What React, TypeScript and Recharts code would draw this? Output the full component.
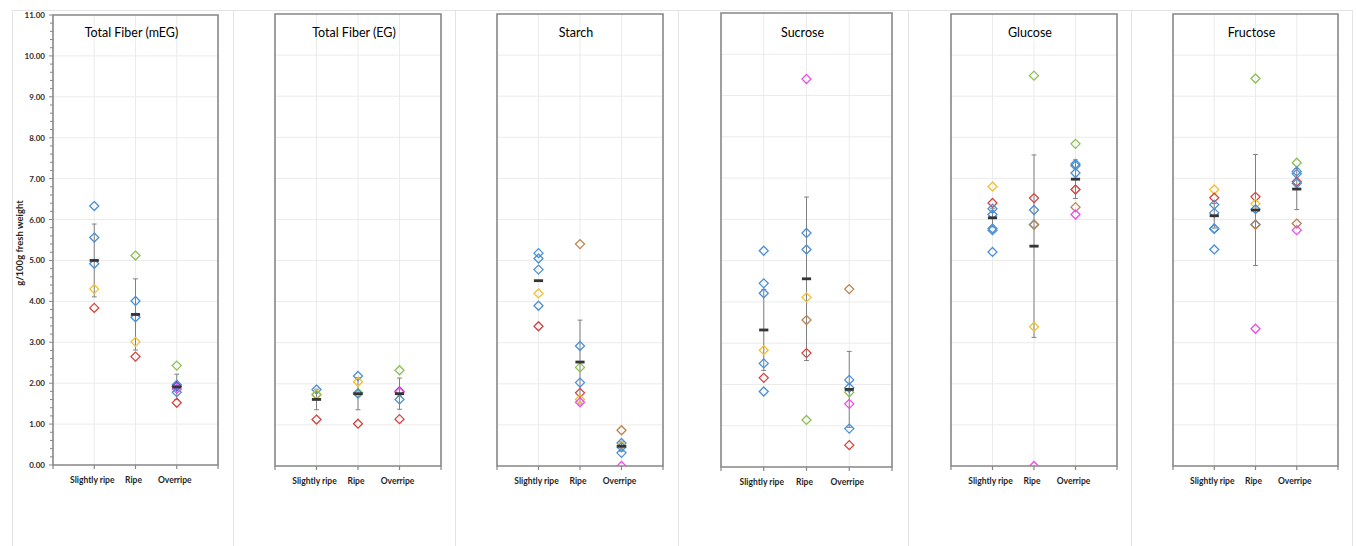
import React from "react";
import {
  ScatterChart,
  Scatter,
  XAxis,
  YAxis,
  CartesianGrid,
  ErrorBar,
  ReferenceArea,
} from "recharts";

// Ripeness stages on the x axis (positions 1..3, axis runs 0..4)
const stages = ["Slightly ripe", "Ripe", "Overripe"];
const stageTicks = [0, 1, 2, 3, 4];
const valueTicks = [0, 1, 2, 3, 4, 5, 6, 7, 8, 9, 10, 11];
const valueMinorTicks = Array.from({ length: 56 }, (_, i) => i / 5);

const tones: Record<string, string> = {
  blue: "#4a8fd6",
  red: "#d3423d",
  yellow: "#f4bf2c",
  green: "#8cbf52",
  magenta: "#ec4de8",
  brown: "#b9844f",
  purple: "#7a3fbf",
};

type Sample = { stage: number; value: number; tone: string };

// Total Fiber (mEG)
const fiberMegSamples: Sample[] = [
  { stage: 1, value: 6.33, tone: "blue" },
  { stage: 1, value: 5.56, tone: "blue" },
  { stage: 1, value: 4.92, tone: "blue" },
  { stage: 1, value: 4.3, tone: "yellow" },
  { stage: 1, value: 3.84, tone: "red" },
  { stage: 2, value: 5.12, tone: "green" },
  { stage: 2, value: 4.01, tone: "blue" },
  { stage: 2, value: 3.61, tone: "blue" },
  { stage: 2, value: 3.01, tone: "yellow" },
  { stage: 2, value: 2.65, tone: "red" },
  { stage: 3, value: 2.43, tone: "green" },
  { stage: 3, value: 1.96, tone: "blue" },
  { stage: 3, value: 1.92, tone: "purple" },
  { stage: 3, value: 1.86, tone: "magenta" },
  { stage: 3, value: 1.78, tone: "blue" },
  { stage: 3, value: 1.52, tone: "red" },
];
const fiberMegMeans = [5.0, 3.68, 1.91];
const fiberMegSpread = [0.89, 0.87, 0.31];

// Total Fiber (EG)
const fiberEgSamples: Sample[] = [
  { stage: 1, value: 1.86, tone: "blue" },
  { stage: 1, value: 1.75, tone: "yellow" },
  { stage: 1, value: 1.73, tone: "green" },
  { stage: 1, value: 1.13, tone: "red" },
  { stage: 2, value: 2.19, tone: "blue" },
  { stage: 2, value: 2.05, tone: "yellow" },
  { stage: 2, value: 1.78, tone: "green" },
  { stage: 2, value: 1.76, tone: "blue" },
  { stage: 2, value: 1.03, tone: "red" },
  { stage: 3, value: 2.33, tone: "green" },
  { stage: 3, value: 1.82, tone: "purple" },
  { stage: 3, value: 1.8, tone: "magenta" },
  { stage: 3, value: 1.62, tone: "blue" },
  { stage: 3, value: 1.14, tone: "red" },
];
const fiberEgMeans = [1.62, 1.76, 1.76];
const fiberEgSpread = [0.25, 0.39, 0.38];

// Starch
const starchSamples: Sample[] = [
  { stage: 1, value: 5.18, tone: "blue" },
  { stage: 1, value: 5.05, tone: "blue" },
  { stage: 1, value: 4.78, tone: "blue" },
  { stage: 1, value: 4.2, tone: "yellow" },
  { stage: 1, value: 3.9, tone: "blue" },
  { stage: 1, value: 3.4, tone: "red" },
  { stage: 2, value: 5.4, tone: "brown" },
  { stage: 2, value: 2.92, tone: "blue" },
  { stage: 2, value: 2.4, tone: "green" },
  { stage: 2, value: 2.03, tone: "blue" },
  { stage: 2, value: 1.78, tone: "red" },
  { stage: 2, value: 1.62, tone: "yellow" },
  { stage: 2, value: 1.55, tone: "magenta" },
  { stage: 3, value: 0.87, tone: "brown" },
  { stage: 3, value: 0.56, tone: "blue" },
  { stage: 3, value: 0.5, tone: "yellow" },
  { stage: 3, value: 0.46, tone: "blue" },
  { stage: 3, value: 0.32, tone: "blue" },
  { stage: 3, value: 0.0, tone: "magenta" },
];
const starchMeans = [4.51, 2.53, 0.48];
const starchSpread = [0, 1.02, 0.12];

// Sucrose
const sucroseSamples: Sample[] = [
  { stage: 1, value: 5.24, tone: "blue" },
  { stage: 1, value: 4.45, tone: "blue" },
  { stage: 1, value: 4.21, tone: "blue" },
  { stage: 1, value: 2.83, tone: "yellow" },
  { stage: 1, value: 2.51, tone: "blue" },
  { stage: 1, value: 2.16, tone: "red" },
  { stage: 1, value: 1.83, tone: "blue" },
  { stage: 2, value: 9.4, tone: "magenta" },
  { stage: 2, value: 5.67, tone: "blue" },
  { stage: 2, value: 5.27, tone: "blue" },
  { stage: 2, value: 4.11, tone: "yellow" },
  { stage: 2, value: 3.56, tone: "brown" },
  { stage: 2, value: 2.76, tone: "red" },
  { stage: 2, value: 1.14, tone: "green" },
  { stage: 3, value: 4.31, tone: "brown" },
  { stage: 3, value: 2.11, tone: "blue" },
  { stage: 3, value: 1.92, tone: "blue" },
  { stage: 3, value: 1.81, tone: "green" },
  { stage: 3, value: 1.53, tone: "magenta" },
  { stage: 3, value: 0.93, tone: "blue" },
  { stage: 3, value: 0.53, tone: "red" },
];
const sucroseMeans = [3.32, 4.56, 1.88];
const sucroseSpread = [0.98, 1.98, 0.92];

// Glucose
const glucoseSamples: Sample[] = [
  { stage: 1, value: 6.8, tone: "yellow" },
  { stage: 1, value: 6.4, tone: "red" },
  { stage: 1, value: 6.26, tone: "blue" },
  { stage: 1, value: 6.12, tone: "blue" },
  { stage: 1, value: 5.78, tone: "blue" },
  { stage: 1, value: 5.74, tone: "blue" },
  { stage: 1, value: 5.21, tone: "blue" },
  { stage: 2, value: 9.5, tone: "green" },
  { stage: 2, value: 6.52, tone: "red" },
  { stage: 2, value: 6.23, tone: "blue" },
  { stage: 2, value: 5.88, tone: "blue" },
  { stage: 2, value: 5.87, tone: "brown" },
  { stage: 2, value: 3.39, tone: "yellow" },
  { stage: 2, value: 0.0, tone: "magenta" },
  { stage: 3, value: 7.84, tone: "green" },
  { stage: 3, value: 7.35, tone: "blue" },
  { stage: 3, value: 7.31, tone: "blue" },
  { stage: 3, value: 7.13, tone: "blue" },
  { stage: 3, value: 6.73, tone: "red" },
  { stage: 3, value: 6.3, tone: "brown" },
  { stage: 3, value: 6.12, tone: "magenta" },
];
const glucoseMeans = [6.04, 5.35, 6.98];
const glucoseSpread = [0.22, 2.22, 0.47];

// Fructose
const fructoseSamples: Sample[] = [
  { stage: 1, value: 6.73, tone: "yellow" },
  { stage: 1, value: 6.53, tone: "red" },
  { stage: 1, value: 6.36, tone: "blue" },
  { stage: 1, value: 6.16, tone: "blue" },
  { stage: 1, value: 5.78, tone: "blue" },
  { stage: 1, value: 5.77, tone: "blue" },
  { stage: 1, value: 5.27, tone: "blue" },
  { stage: 2, value: 9.43, tone: "green" },
  { stage: 2, value: 6.55, tone: "red" },
  { stage: 2, value: 6.38, tone: "yellow" },
  { stage: 2, value: 6.25, tone: "blue" },
  { stage: 2, value: 5.88, tone: "blue" },
  { stage: 2, value: 5.87, tone: "brown" },
  { stage: 2, value: 3.34, tone: "magenta" },
  { stage: 3, value: 7.38, tone: "green" },
  { stage: 3, value: 7.17, tone: "blue" },
  { stage: 3, value: 7.11, tone: "blue" },
  { stage: 3, value: 6.92, tone: "red" },
  { stage: 3, value: 6.88, tone: "blue" },
  { stage: 3, value: 5.9, tone: "brown" },
  { stage: 3, value: 5.74, tone: "magenta" },
];
const fructoseMeans = [6.09, 6.23, 6.74];
const fructoseSpread = [0.3, 1.35, 0.5];

const panels = [
  { title: "Total Fiber (mEG)", samples: fiberMegSamples, means: fiberMegMeans, spread: fiberMegSpread },
  { title: "Total Fiber (EG)", samples: fiberEgSamples, means: fiberEgMeans, spread: fiberEgSpread },
  { title: "Starch", samples: starchSamples, means: starchMeans, spread: starchSpread },
  { title: "Sucrose", samples: sucroseSamples, means: sucroseMeans, spread: sucroseSpread },
  { title: "Glucose", samples: glucoseSamples, means: glucoseMeans, spread: glucoseSpread },
  { title: "Fructose", samples: fructoseSamples, means: fructoseMeans, spread: fructoseSpread },
];

// plot rectangles of the six small charts
const plotBoxes = [
  { left: 53, right: 218, top: 15, bottom: 465 },
  { left: 275, right: 441, top: 14, bottom: 466 },
  { left: 497, right: 663, top: 14, bottom: 466 },
  { left: 721, right: 892, top: 13, bottom: 467 },
  { left: 951, right: 1117, top: 14, bottom: 466 },
  { left: 1173, right: 1338, top: 14, bottom: 466 },
];
const cellEdges = [12, 233, 455, 678, 908, 1131, 1352];

const FRAME = "#878787";
const AXIS_W = 53;
const PAD_R = 10;
const X_AXIS_H = 30;
const H = 546;

const Diamond = (props: any) => {
  const { cx, cy, payload } = props;
  if (cx == null || cy == null) return null;
  const r = 4.5;
  return (
    <polygon
      points={`${cx},${cy - r} ${cx + r},${cy} ${cx},${cy + r} ${cx - r},${cy}`}
      fill="none"
      stroke={tones[payload.tone]}
      strokeWidth={1.3}
    />
  );
};

const MeanDash = (props: any) => {
  const { cx, cy } = props;
  if (cx == null || cy == null) return null;
  return <rect x={cx - 4.6} y={cy - 1.4} width={9.2} height={2.8} fill="#353535" />;
};

const StageTick = (props: any) => {
  const { x, y, payload } = props;
  const name = stages[payload.value - 1];
  if (!name) return null;
  return (
    <text x={x - 2} y={y} dy={12} textAnchor="middle" fontSize={8.5} fontWeight={700} fill="#1f1f1f">
      {name}
    </text>
  );
};

const ValueTick = (props: any) => {
  const { x, y, payload } = props;
  const v = payload.value;
  const major = Math.abs(v - Math.round(v)) < 1e-6;
  // x is the label anchor: tickMargin (4) + tickSize (4) left of the axis
  return (
    <g>
      <line x1={x + (major ? 4 : 5)} x2={x + 8} y1={y} y2={y} stroke={FRAME} strokeWidth={1} />
      {major && (
        <text x={x} y={y} dy={3} textAnchor="end" fontSize={8} fontWeight={700} fill="#2b2b2b">
          {v.toFixed(2)}
        </text>
      )}
    </g>
  );
};

const AxisTitle = (props: any) => {
  const vb = props.viewBox || {};
  const cx = (vb.x ?? 0) + 19.5;
  const cy = (vb.y ?? 0) + (vb.height ?? 0) / 2 + 3;
  return (
    <text
      x={cx}
      y={cy}
      transform={`rotate(-90, ${cx}, ${cy})`}
      textAnchor="middle"
      dominantBaseline="central"
      fontSize={9.5}
      fontWeight={700}
      fill="#1f1f1f"
    >
      g/100g fresh weight
    </text>
  );
};

function Panel({ index }: { index: number }) {
  const { title, samples, means, spread } = panels[index];
  const box = plotBoxes[index];
  const withAxis = index === 0;
  const width = box.right - box.left + AXIS_W + PAD_R;
  const summary = means.map((m, i) => ({ stage: i + 1, value: m, spread: spread[i] }));

  return (
    <div style={{ position: "absolute", left: box.left - AXIS_W, top: 0, width, height: H }}>
      <ScatterChart
        width={width}
        height={H}
        margin={{
          top: box.top,
          right: PAD_R,
          bottom: H - box.bottom - X_AXIS_H,
          left: withAxis ? 0 : AXIS_W,
        }}
      >
        <CartesianGrid
          stroke="#ebebeb"
          strokeWidth={1}
          horizontalValues={valueTicks.slice(1, -1)}
          verticalValues={[1, 2, 3]}
        />
        <XAxis
          type="number"
          dataKey="stage"
          domain={[0, 4]}
          ticks={stageTicks}
          interval={0}
          height={X_AXIS_H}
          axisLine={false}
          tickLine={{ stroke: FRAME, strokeWidth: 1.2 }}
          tickSize={4}
          tickMargin={2}
          tick={<StageTick />}
          allowDataOverflow
        />
        <YAxis
          type="number"
          dataKey="value"
          domain={[0, 11]}
          ticks={valueMinorTicks}
          interval={0}
          hide={!withAxis}
          width={AXIS_W}
          axisLine={false}
          tickLine={false}
          tickSize={4}
          tickMargin={4}
          tick={<ValueTick />}
          label={<AxisTitle />}
          allowDataOverflow
        />
        <ReferenceArea
          x1={0}
          x2={4}
          y1={0}
          y2={11}
          fill="none"
          fillOpacity={0}
          stroke={FRAME}
          strokeWidth={1.6}
        />
        <Scatter data={samples} shape={<Diamond />} isAnimationActive={false} />
        <Scatter data={summary} shape={<MeanDash />} isAnimationActive={false}>
          <ErrorBar dataKey="spread" direction="y" width={2.4} stroke="#808080" strokeWidth={1} />
        </Scatter>
      </ScatterChart>
      <div
        style={{
          position: "absolute",
          left: AXIS_W + (box.right - box.left) / 2 - 4 - 100,
          width: 200,
          top: 26,
          lineHeight: "14px",
          textAlign: "center",
          fontSize: 12.5,
          color: "#000",
        }}
      >
        {title}
      </div>
    </div>
  );
}

export default function App() {
  return (
    <div
      style={{
        position: "absolute",
        left: 0,
        top: 0,
        width: 1356,
        height: H,
        background: "#fff",
        fontFamily: "Lato, 'Open Sans', sans-serif",
        overflow: "hidden",
      }}
    >
      {/* light cell outlines around each small chart */}
      <div
        style={{
          position: "absolute",
          left: cellEdges[0],
          top: 10,
          width: cellEdges[cellEdges.length - 1] - cellEdges[0],
          height: 1,
          background: "#e4e4e4",
        }}
      />
      {cellEdges.map((x) => (
        <div
          key={x}
          style={{ position: "absolute", left: x, top: 10, width: 1, height: H - 10, background: "#e4e4e4" }}
        />
      ))}
      {panels.map((_, i) => (
        <Panel key={i} index={i} />
      ))}
    </div>
  );
}
